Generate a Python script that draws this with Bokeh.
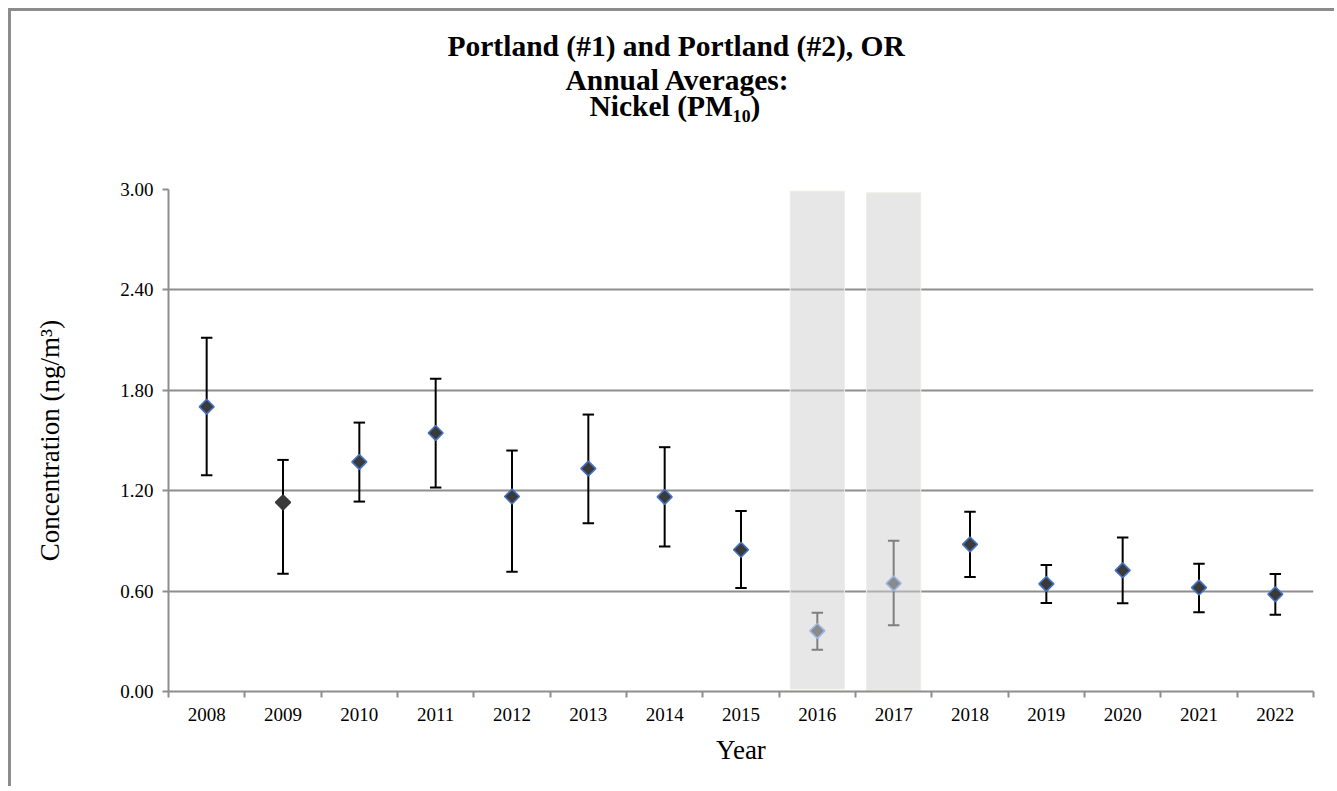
import numpy as np
from bokeh.plotting import figure
from bokeh.models import Range1d, FixedTicker, PrintfTickFormatter, Title, ColumnDataSource
from bokeh.embed import file_html
from bokeh.resources import INLINE

# ---- data ----
years = [2008, 2009, 2010, 2011, 2012, 2013, 2014, 2015, 2016, 2017, 2018, 2019, 2020, 2021, 2022]
means = [1.702, 1.130, 1.372, 1.545, 1.165, 1.332, 1.163, 0.847, 0.362, 0.646, 0.879, 0.643, 0.724, 0.621, 0.581]
upper = [2.114, 1.384, 1.607, 1.869, 1.440, 1.655, 1.460, 1.078, 0.471, 0.901, 1.074, 0.756, 0.921, 0.764, 0.702]
lower = [1.293, 0.704, 1.135, 1.219, 0.716, 1.006, 0.867, 0.619, 0.249, 0.396, 0.684, 0.529, 0.527, 0.473, 0.458]
marker_fill = ["#3a3a3a"] * 8 + ["#8a8a8a"] * 2 + ["#3a3a3a"] * 5
marker_line = ["#4472c4", "#3a3a3a"] + ["#4472c4"] * 6 + ["#9db5e2"] * 2 + ["#4472c4"] * 5
bar_color = ["#000000"] * 8 + ["#7f7f7f"] * 2 + ["#000000"] * 5
shaded_years = [2016, 2017]
shade_top = [2.99, 2.98]
shade_bottom = [0.015, 0.008]
y_ticks = [0.0, 0.6, 1.2, 1.8, 2.4, 3.0]
title_lines = ["Portland (#1) and Portland (#2), OR", "Annual Averages:", "Nickel (PM\u2081\u2080)"]

idx = list(range(len(years)))
cap = 0.075
src = ColumnDataSource(dict(
    x=idx, mean=means, upper=upper, lower=lower,
    xl=[i - cap for i in idx], xr=[i + cap for i in idx],
    fill=marker_fill, line=marker_line, bar=bar_color,
))
shade_x = [years.index(y) for y in shaded_years]

W, H = 1326, 778
FONT = "Liberation Serif"
GRAY = "#8e8e8e"

p = figure(width=W, height=H, x_range=Range1d(-0.5, len(years) - 0.5), y_range=Range1d(0, 3.0),
           output_backend="svg", toolbar_location=None, title_location=None,
           min_border_left=157, min_border_right=24, min_border_top=178, min_border_bottom=H - 680)
p.styles = {"border-top": "3px solid #8c8c8c", "border-left": "3px solid #8c8c8c",
            "margin-left": "8px", "margin-top": "8px"}
p.background_fill_color = "white"
p.border_fill_color = "white"
p.outline_line_color = None

# title lines, stacked above the frame (first added = closest to the frame)
spacer = Title(text=" ", text_font_size="1px", standoff=65)
p.add_layout(spacer, "above")
title_offsets = [279, 397, 421]
title_standoffs = [16, -16, 0]
for txt, off, so in reversed(list(zip(title_lines, title_offsets, title_standoffs))):
    p.add_layout(Title(text=txt, align="left", offset=off, standoff=so,
                       text_font=FONT, text_font_size="29.5px", text_font_style="bold",
                       text_color="black"), "above")

# grid
p.xgrid.grid_line_color = None
p.ygrid.grid_line_color = GRAY
p.ygrid.grid_line_width = 2
p.ygrid.ticker = FixedTicker(ticks=y_ticks)

# y axis
p.yaxis.ticker = FixedTicker(ticks=y_ticks)
p.yaxis.formatter = PrintfTickFormatter(format="%.2f")
p.yaxis.axis_label = "Concentration (ng/m\u00b3)"
p.yaxis.axis_label_text_font = FONT
p.yaxis.axis_label_text_font_size = "27px"
p.yaxis.axis_label_text_font_style = "normal"
p.yaxis.axis_label_text_color = "black"
p.yaxis.axis_label_standoff = 52
p.yaxis.major_label_text_font = FONT
p.yaxis.major_label_text_font_size = "19px"
p.yaxis.major_label_text_color = "black"
p.yaxis.major_label_standoff = 9
p.yaxis.axis_line_color = GRAY
p.yaxis.axis_line_width = 2
p.yaxis.major_tick_line_color = GRAY
p.yaxis.major_tick_line_width = 2
p.yaxis.major_tick_out = 6
p.yaxis.major_tick_in = 0
p.yaxis.minor_tick_line_color = None

# x axis
p.xaxis.ticker = FixedTicker(ticks=idx, minor_ticks=[i - 0.5 for i in range(len(years) + 1)])
p.xaxis.major_label_overrides = {i: str(y) for i, y in zip(idx, years)}
p.xaxis.axis_label = "Year"
p.xaxis.axis_label_text_font = FONT
p.xaxis.axis_label_text_font_size = "27px"
p.xaxis.axis_label_text_font_style = "normal"
p.xaxis.axis_label_text_color = "black"
p.xaxis.axis_label_standoff = 11
p.xaxis.major_label_text_font = FONT
p.xaxis.major_label_text_font_size = "19px"
p.xaxis.major_label_text_color = "black"
p.xaxis.major_label_standoff = 10
p.xaxis.axis_line_color = GRAY
p.xaxis.axis_line_width = 2
p.xaxis.major_tick_line_color = None
p.xaxis.major_tick_out = 0
p.xaxis.major_tick_in = 0
p.xaxis.minor_tick_line_color = GRAY
p.xaxis.minor_tick_line_width = 2
p.xaxis.minor_tick_out = 6
p.xaxis.minor_tick_in = 0

# shaded years
p.vbar(x=shade_x, width=0.71, top=shade_top, bottom=shade_bottom,
       fill_color="#d0d0d0", fill_alpha=0.5, line_color="#eeede4", line_width=1)

# error bars
p.segment(x0="x", y0="lower", x1="x", y1="upper", source=src, line_color="bar", line_width=2)
p.segment(x0="xl", y0="upper", x1="xr", y1="upper", source=src, line_color="bar", line_width=2)
p.segment(x0="xl", y0="lower", x1="xr", y1="lower", source=src, line_color="bar", line_width=2)

# markers
p.scatter(x="x", y="mean", source=src, marker="square", angle=np.pi / 4, size=10.5,
          fill_color="fill", line_color="line", line_width=1.6)

open("out.html", "w").write(file_html(p, INLINE))
